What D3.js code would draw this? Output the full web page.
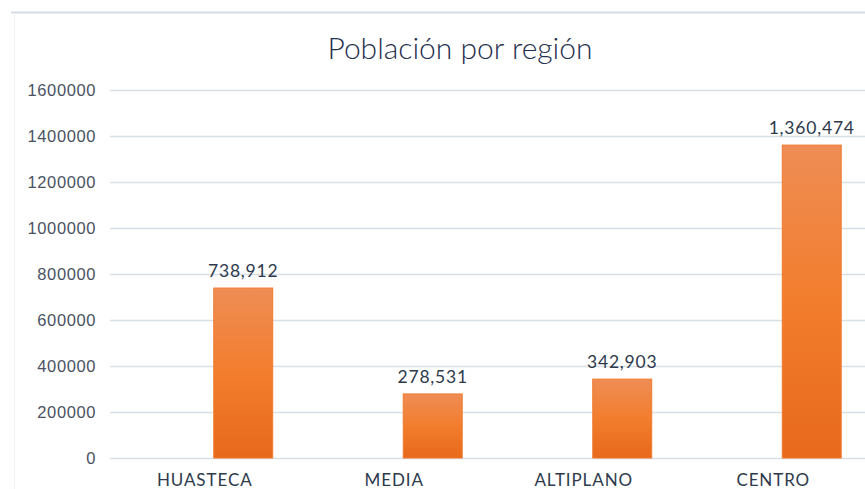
<!DOCTYPE html>
<html>
<head>
<meta charset="utf-8">
<script src="https://cdn.jsdelivr.net/npm/d3@7"></script>
<style>
  body { margin: 0; background: #fff; }
  svg { display: block; font-family: Lato, "Open Sans", sans-serif; }
</style>
</head>
<body>
<svg id="chart" width="865" height="489"></svg>
<script>
// Data
const regions = ['HUASTECA', 'MEDIA', 'ALTIPLANO', 'CENTRO'];
const population = [738912, 278531, 342903, 1360474];
const yTicks = [0, 200000, 400000, 600000, 800000, 1000000, 1200000, 1400000, 1600000];
const chartTitle = 'Población por región';

const svg = d3.select('#chart');
const W = 865, H = 489;
const plot = { left: 110, right: 868, top: 90, bottom: 458 };

// card border
svg.append('line').attr('x1', 11).attr('x2', W).attr('y1', 12.5).attr('y2', 12.5)
  .attr('stroke', '#d6dce5').attr('stroke-width', 2);
svg.append('line').attr('x1', 14.5).attr('x2', 14.5).attr('y1', 14).attr('y2', H)
  .attr('stroke', '#f0f2f5').attr('stroke-width', 1);

// gradient
const defs = svg.append('defs');
const grad = defs.append('linearGradient').attr('id', 'barGrad')
  .attr('x1', 0).attr('y1', 0).attr('x2', 0).attr('y2', 1);
grad.append('stop').attr('offset', '0%').attr('stop-color', '#ef8d55');
grad.append('stop').attr('offset', '50%').attr('stop-color', '#f27d2d');
grad.append('stop').attr('offset', '100%').attr('stop-color', '#e8691b');

// Scales
const y = d3.scaleLinear().domain([0, 1600000]).range([plot.bottom, plot.top]);
const x0 = d3.scaleBand().domain(regions).range([plot.left, plot.right]);
// two slots per category, first one empty
const x1 = d3.scaleBand().domain(['empty', 'value']).range([0, x0.bandwidth()])
  .paddingInner(0.234).paddingOuter(0.348);

// Grid + y labels
const yAxis = d3.axisLeft(y).tickValues(yTicks).tickFormat(d3.format('d'))
  .tickSize(-(plot.right - plot.left)).tickPadding(14);
const gy = svg.append('g').attr('transform', `translate(${plot.left},0)`).call(yAxis);
gy.select('.domain').remove();
gy.selectAll('.tick line').attr('stroke', '#d9dfe7').attr('stroke-width', 1.5);
gy.selectAll('.tick text').attr('fill', '#4a5262').attr('font-size', 16.5)
  .attr('letter-spacing', 0.6);

// Bars
const bars = svg.append('g');
bars.selectAll('rect').data(population).join('rect')
  .attr('x', (d, i) => x0(regions[i]) + x1('value'))
  .attr('y', d => y(d))
  .attr('width', x1.bandwidth())
  .attr('height', d => y(0) - y(d))
  .attr('fill', 'url(#barGrad)')
  .attr('stroke', '#f07a2e').attr('stroke-width', 1);

// Value labels
svg.append('g').selectAll('text').data(population).join('text')
  .attr('x', (d, i) => x0(regions[i]) + x1('value') + x1.bandwidth() / 2)
  .attr('y', d => y(d) - 11)
  .attr('text-anchor', 'middle')
  .attr('fill', '#2e3a4c').attr('font-size', 17.5)
  .attr('letter-spacing', 0.8)
  .text(d => d3.format(',')(d));

// Category labels
svg.append('g').selectAll('text').data(regions).join('text')
  .attr('x', d => x0(d) + x0.bandwidth() / 2)
  .attr('y', 486)
  .attr('text-anchor', 'middle')
  .attr('fill', '#2e3a4c').attr('font-size', 17)
  .attr('letter-spacing', 0.9)
  .text(d => d);

// Title
svg.append('text').attr('x', 460).attr('y', 59)
  .attr('text-anchor', 'middle').attr('fill', '#1f2f4e')
  .attr('font-size', 30).attr('font-weight', 300)
  .text(chartTitle);
</script>
</body>
</html>
